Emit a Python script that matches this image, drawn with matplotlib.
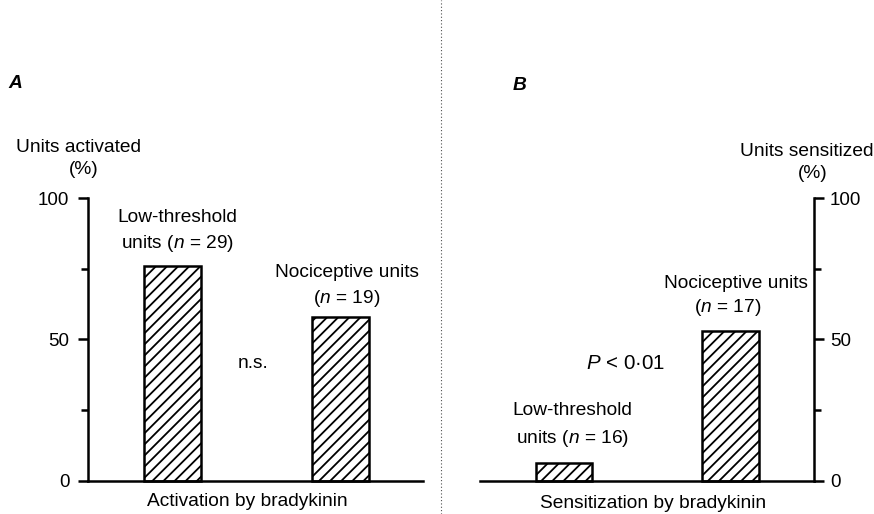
import matplotlib
matplotlib.use("Agg")
import matplotlib.pyplot as plt
from matplotlib.lines import Line2D

plt.rcParams['font.family'] = ['Liberation Sans', 'DejaVu Sans']
plt.rcParams['mathtext.fontset'] = 'custom'
plt.rcParams['mathtext.rm'] = 'Liberation Sans'
plt.rcParams['mathtext.it'] = 'Liberation Sans:italic'
plt.rcParams['hatch.linewidth'] = 1.3

# data (percent of units)
groups = ["Low-threshold", "Nociceptive"]
activated = [75.9, 57.9]      # panel A, n = 29 / 19
sensitized = [6.2, 53.0]      # panel B, n = 16 / 17
n_act = [29, 19]
n_sens = [16, 17]
yticks = [0, 50, 100]
yminor = [25, 75]

fs = 13.8
fig = plt.figure(figsize=(8.74, 5.14), dpi=100)

def style_axis(ax, side):
    ax.set_ylim(0, 100)
    for s in ["top", "left", "right"]:
        ax.spines[s].set_visible(False)
    ax.spines[side].set_visible(True)
    for s in ["bottom", side]:
        ax.spines[s].set_linewidth(1.8)
    ax.set_xticks([])
    ax.set_yticks(yticks)
    ax.set_yticks(yminor, minor=True)
    ax.tick_params(axis="y", which="major", length=7.5, width=1.8, pad=6, labelsize=13.5)
    ax.tick_params(axis="y", which="minor", length=5, width=1.8)
    if side == "right":
        ax.yaxis.tick_right()
        ax.tick_params(axis="y", which="major", pad=4)

x = [1, 2]
w = 0.34

# ---- panel A
ax1 = fig.add_axes([0.1007, 0.065, 0.3833, 0.549])
ax1.bar(x, activated, width=w, color="white", edgecolor="black",
        linewidth=1.8, hatch="///", clip_on=False)
ax1.set_xlim(0.495, 2.494)
style_axis(ax1, "left")
ax1.text(1.03, 93.3, "Low-threshold", ha="center", va="center", fontsize=fs)
ax1.text(1.03, 84.1, "units ($n$ = %d)" % n_act[0], ha="center", va="center", fontsize=fs)
ax1.text(2.04, 73.7, "Nociceptive units", ha="center", va="center", fontsize=fs)
ax1.text(2.04, 64.5, "($n$ = %d)" % n_act[1], ha="center", va="center", fontsize=fs)
ax1.text(1.48, 41.6, "n.s.", ha="center", va="center", fontsize=fs)

# ---- panel B
ax2 = fig.add_axes([0.5492, 0.065, 0.3822, 0.549])
ax2.bar(x, sensitized, width=w, color="white", edgecolor="black",
        linewidth=1.8, hatch="///", clip_on=False)
ax2.set_xlim(0.4955, 2.5015)
style_axis(ax2, "right")
ax2.text(1.05, 24.75, "Low-threshold", ha="center", va="center", fontsize=fs)
ax2.text(1.05, 15.0, "units ($n$ = %d)" % n_sens[0], ha="center", va="center", fontsize=fs)
ax2.text(2.03, 70.0, "Nociceptive units", ha="center", va="center", fontsize=fs)
ax2.text(1.985, 61.4, "($n$ = %d)" % n_sens[1], ha="center", va="center", fontsize=fs)
ax2.text(1.37, 41.4, "$P$ < 0\u00b701", ha="center", va="center", fontsize=fs + 1)

# ---- figure texts
def ftext(px, py, s, **kw):
    fig.text(px / 874, 1 - py / 514, s, ha="center", va="center", fontsize=fs, **kw)

ftext(15, 84, "A", fontweight="bold", style="italic")
ftext(520, 86, "B", fontweight="bold", style="italic")
ftext(79, 147, "Units activated")
ftext(84, 170, "(%)")
ftext(807, 151, "Units sensitized")
ftext(813, 173, "(%)")
ftext(247, 502, "Activation by bradykinin")
ftext(653, 503, "Sensitization by bradykinin")

# dotted divider between panels
fig.add_artist(Line2D([441 / 874, 441 / 874], [0, 1], transform=fig.transFigure,
                      color="0.3", linewidth=0.8, linestyle=(0, (1, 2))))

fig.savefig("out.png", dpi=100)
